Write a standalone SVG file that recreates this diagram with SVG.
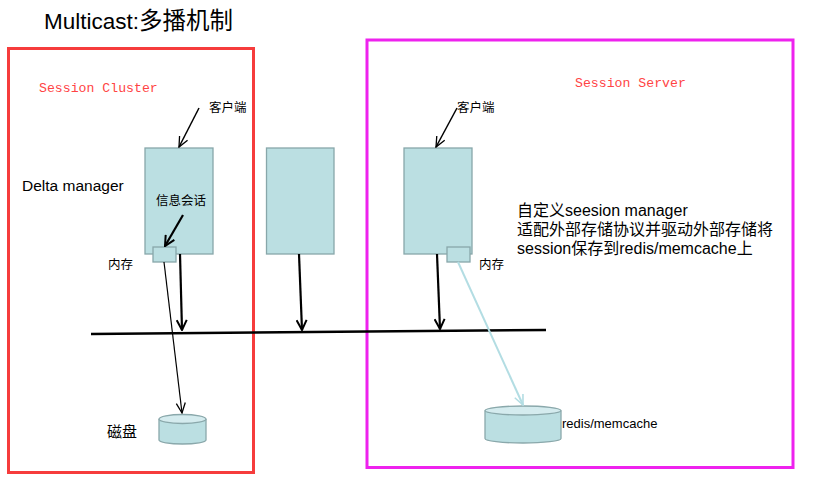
<svg xmlns="http://www.w3.org/2000/svg" width="822" height="485" viewBox="0 0 822 485">
<style>
.t{font-family:"Liberation Sans","Noto Sans CJK SC",Arial,sans-serif;fill:#000}
.cjk{font-family:"Noto Sans CJK SC","Liberation Sans",sans-serif;fill:#000}
.mono{font-family:"Liberation Mono","Courier New",monospace;font-size:13.2px;fill:#ff4444}
.node{fill:#bbdfe2;stroke:#88a7aa;stroke-width:1.3}
.cyl{fill:#bbdfe2;stroke:#8aa8ab;stroke-width:1.3}
.cyltop{fill:#d4ebee;stroke:#8aa8ab;stroke-width:1.3}
.blk{stroke:#000;fill:none}
</style>
<defs>
<marker id="ah" markerUnits="userSpaceOnUse" viewBox="0 0 12 12" refX="11" refY="6" markerWidth="12" markerHeight="12" orient="auto">
<path d="M1,1 L11,6 L1,11" fill="none" stroke="#000" stroke-width="2"/>
</marker>
<marker id="ahs" markerUnits="userSpaceOnUse" viewBox="0 0 12 12" refX="11" refY="6" markerWidth="12" markerHeight="12" orient="auto">
<path d="M1,1.5 L11,6 L1,10.5" fill="none" stroke="#000" stroke-width="1.3"/>
</marker>
<marker id="ahb" markerUnits="userSpaceOnUse" viewBox="0 0 12 12" refX="11" refY="6" markerWidth="12" markerHeight="12" orient="auto">
<path d="M1,1.5 L11,6 L1,10.5" fill="none" stroke="#b3dde3" stroke-width="1.6"/>
</marker>
</defs>

<text class="t" x="44" y="29" font-size="22.5">Multicast:<tspan class="cjk" font-size="23.5">多播机制</tspan></text>

<g id="session-cluster">
<rect x="8.5" y="48.5" width="245" height="424" fill="none" stroke="#f63c3c" stroke-width="3"/>
<text class="mono" x="39" y="92">Session Cluster</text>
<text class="t" x="22" y="191" font-size="15.5">Delta manager</text>
</g>

<g id="session-server">
<rect x="367" y="40" width="426" height="427.5" fill="none" stroke="#ee22ee" stroke-width="3"/>
<text class="mono" x="575" y="87">Session Server</text>
<text class="t" x="517" y="216" font-size="16">自定义seesion manager</text>
<text class="t" x="517" y="235" font-size="16">适配外部存储协议并驱动外部存储将</text>
<text class="t" x="517" y="254" font-size="16">session保存到redis/memcache上</text>
</g>

<g id="node1">
<rect class="node" x="145" y="148" width="68" height="106"/>
<text class="cjk" x="156" y="205" font-size="12.5">信息会话</text>
<rect class="node" x="153" y="247" width="23" height="15"/>
<text class="cjk" x="209" y="112" font-size="12.5">客户端</text>
<text class="cjk" x="108" y="269" font-size="12.5">内存</text>
</g>

<g id="node2">
<rect class="node" x="266.5" y="148" width="67.5" height="106"/>
</g>

<g id="node3">
<rect class="node" x="404" y="148" width="68" height="106"/>
<rect class="node" x="447" y="247" width="23" height="15"/>
<text class="cjk" x="457" y="112" font-size="12.5">客户端</text>
<text class="cjk" x="479" y="269" font-size="12.5">内存</text>
</g>

<g id="disk">
<path class="cyl" d="M159,419 L159,440 A23.5,4 0 0 0 206,440 L206,419"/>
<ellipse class="cyltop" cx="182.5" cy="419" rx="23.5" ry="4.5"/>
<text class="cjk" x="107" y="437" font-size="15">磁盘</text>
</g>

<g id="redis">
<path class="cyl" d="M485,410.5 L485,438.5 A38,4.5 0 0 0 561,438.5 L561,410.5"/>
<ellipse class="cyltop" cx="523" cy="410.5" rx="38" ry="4.5"/>
<text class="t" x="562" y="428" font-size="13">redis/memcache</text>
</g>

<g id="connectors">
<line class="blk" x1="91" y1="334" x2="546" y2="330" stroke-width="2.5"/>
<line class="blk" x1="199" y1="108" x2="179" y2="147" stroke-width="1.5" marker-end="url(#ahs)"/>
<line class="blk" x1="457" y1="108" x2="436" y2="147" stroke-width="1.5" marker-end="url(#ahs)"/>
<line class="blk" x1="183" y1="215" x2="165" y2="246" stroke-width="2.2" marker-end="url(#ah)"/>
<line class="blk" x1="180" y1="254" x2="182" y2="330" stroke-width="2.2" marker-end="url(#ah)"/>
<line class="blk" x1="299" y1="254" x2="302" y2="330" stroke-width="2.2" marker-end="url(#ah)"/>
<line class="blk" x1="437" y1="254" x2="440" y2="329" stroke-width="2.2" marker-end="url(#ah)"/>
<line class="blk" x1="164" y1="262" x2="182" y2="413" stroke-width="1.2" marker-end="url(#ahs)"/>
<line x1="458" y1="262" x2="523" y2="405" stroke="#b3dde3" stroke-width="2" marker-end="url(#ahb)"/>
</g>
</svg>
